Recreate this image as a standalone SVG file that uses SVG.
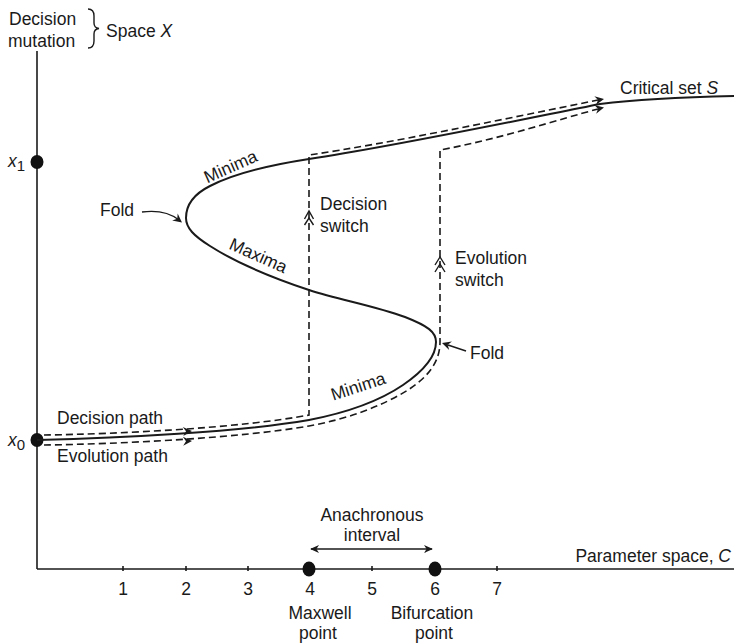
<svg xmlns="http://www.w3.org/2000/svg" xmlns:xlink="http://www.w3.org/1999/xlink" width="734" height="643" viewBox="0 0 734 643">
<style>
text{font-family:"Liberation Sans",Arial,sans-serif;font-size:17.5px;fill:#1a1a1a}
.ax{stroke:#1a1a1a;stroke-width:1.6;fill:none}
.crv{stroke:#1a1a1a;stroke-width:2;fill:none}
.dash{stroke:#1a1a1a;stroke-width:1.6;fill:none;stroke-dasharray:7 4}
.thin{stroke:#1a1a1a;stroke-width:1.4;fill:none}
.dot{fill:#111}
.it{font-style:italic}
.mid{text-anchor:middle}
</style>
<defs>
<path id="ah" d="M-9,-4.5 L0,0 L-9,4.5 L-6,0 z" fill="#1a1a1a"/>
<marker id="arr" viewBox="0 0 10 10" refX="9" refY="5" markerWidth="9" markerHeight="9" markerUnits="userSpaceOnUse" orient="auto-start-reverse"><path d="M0,0.5 L10,5 L0,9.5 L3,5 z" fill="#1a1a1a"/></marker>
</defs>

<g id="axes">
<line class="ax" x1="37" y1="51" x2="37" y2="569"/>
<line class="ax" x1="37" y1="569" x2="734" y2="569"/>
<g class="ax">
<line x1="123" y1="566" x2="123" y2="571"/>
<line x1="186" y1="566" x2="186" y2="571"/>
<line x1="248" y1="566" x2="248" y2="571"/>
<line x1="372" y1="566" x2="372" y2="571"/>
<line x1="497" y1="566" x2="497" y2="571"/>
</g>
<ellipse class="dot" cx="37" cy="162" rx="6.5" ry="7"/>
<ellipse class="dot" cx="37" cy="440" rx="6.5" ry="7"/>
<ellipse class="dot" cx="309" cy="569" rx="6.5" ry="7.5"/>
<ellipse class="dot" cx="435" cy="569" rx="6.5" ry="7.5"/>
</g>

<g id="axis-labels">
<text x="9" y="25">Decision</text>
<text x="8" y="47">mutation</text>
<path class="thin" d="M88,9 Q94,9 94,16 L94,23 Q94,28 99,28.5 Q94,29 94,34 L94,41 Q94,48 88,48"/>
<text x="106" y="37">Space <tspan class="it">X</tspan></text>
<text x="8" y="167"><tspan class="it">x</tspan><tspan dy="4" font-size="15">1</tspan></text>
<text x="8" y="446"><tspan class="it">x</tspan><tspan dy="4" font-size="15">0</tspan></text>
<text x="731" y="562" text-anchor="end">Parameter space, <tspan class="it">C</tspan></text>
<g class="mid">
<text x="123" y="595">1</text>
<text x="186" y="595">2</text>
<text x="248" y="595">3</text>
<text x="310" y="595">4</text>
<text x="372" y="595">5</text>
<text x="435" y="595">6</text>
<text x="497" y="595">7</text>
<text x="320" y="619">Maxwell</text>
<text x="318" y="639">point</text>
<text x="432" y="619">Bifurcation</text>
<text x="434" y="639">point</text>
<text x="372" y="521">Anachronous</text>
<text x="372" y="541">interval</text>
</g>
<line class="thin" x1="311" y1="549" x2="432" y2="549" marker-start="url(#arr)" marker-end="url(#arr)"/>
</g>

<g id="critical-set">
<path class="crv" d="M37,440 C120,438 240,432 309,420 C345,413 378,402 403,385 C422,372 436,358 436,342 C436,332 428,326 405,317 C375,306 340,300 309,290 C270,277 235,262 210,246 C194,236 186,228 186,218 C186,205 194,194 210,186 C235,173 270,165 309,159 C390,147 500,124 600,104 C640,99 690,97 734,96"/>
<text x="620" y="94">Critical set <tspan class="it">S</tspan></text>
<text transform="translate(233,172) rotate(-24)" class="mid">Minima</text>
<text transform="translate(256,261) rotate(24)" class="mid">Maxima</text>
<text transform="translate(360,392) rotate(-18)" class="mid">Minima</text>
<text x="100" y="216">Fold</text>
<path class="thin" d="M142,212 Q165,209 179,220"/>
<use xlink:href="#ah" href="#ah" transform="translate(182,222.5) rotate(38)"/>
<text x="470" y="359">Fold</text>
<line class="thin" x1="466" y1="351" x2="448" y2="345"/>
<use xlink:href="#ah" href="#ah" transform="translate(442,343) rotate(198)"/>
</g>

<g id="decision-path">
<path class="dash" d="M44,435 C120,434 240,428 309,415 L309,155 C390,143 500,120 598,100"/>
<use xlink:href="#ah" href="#ah" transform="translate(604,99) rotate(-10)"/>
<use xlink:href="#ah" href="#ah" transform="translate(192,431) rotate(-3)"/>
<path class="thin" d="M304.5,219 L309,211 L313.5,219 M304.5,225 L309,218 L313.5,225" stroke-width="1.8"/>
<text x="320" y="210">Decision</text>
<text x="320" y="232">switch</text>
<text x="57" y="424">Decision path</text>
</g>

<g id="evolution-path">
<path class="dash" d="M44,445 C120,444 240,438 309,426 C348,419 382,406 408,390 C428,377 440,362 440,342 L440,150 C500,139 560,119 598,109"/>
<use xlink:href="#ah" href="#ah" transform="translate(192,441) rotate(-2)"/>
<use xlink:href="#ah" href="#ah" transform="translate(604,107.5) rotate(-12)"/>
<path class="thin" d="M435,265 L440,257 L445,265 M435,272 L440,264 L445,272" stroke-width="1.8"/>
<text x="455" y="264">Evolution</text>
<text x="455" y="286">switch</text>
<text x="57" y="462">Evolution path</text>
</g>
</svg>
